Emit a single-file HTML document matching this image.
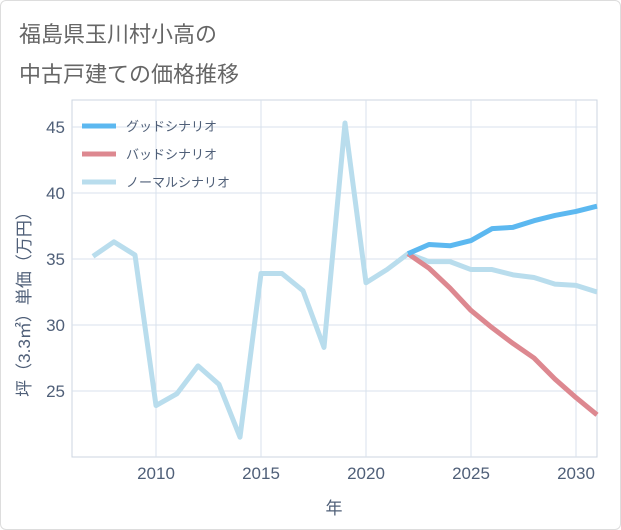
<!DOCTYPE html>
<html><head><meta charset="utf-8"><style>
body{margin:0;background:#fff;}
#card{position:absolute;left:0;top:0;width:619px;height:528px;border:1px solid #ddd;border-radius:6px;background:#fff;}
.t{position:absolute;left:18px;font:22px "Liberation Sans","Noto Sans CJK JP",sans-serif;color:#666;}
svg text{font-family:"Liberation Sans","Noto Sans CJK JP",sans-serif;}
</style></head><body>
<div id="card">
<div class="t" style="top:16px">福島県玉川村小高の</div>
<div class="t" style="top:56px">中古戸建ての価格推移</div>
</div>
<svg id="c" width="621" height="530" style="position:absolute;left:0;top:0"></svg>
<script>
const years=[2007,2008,2009,2010,2011,2012,2013,2014,2015,2016,2017,2018,2019,2020,2021,2022,2023,2024,2025,2026,2027,2028,2029,2030,2031];
const normal=[35.2,36.3,35.3,23.9,24.8,26.9,25.5,21.5,33.9,33.9,32.6,28.3,45.3,33.2,34.2,35.4,34.8,34.8,34.2,34.2,33.8,33.6,33.1,33.0,32.5];
const goodYears=[2022,2023,2024,2025,2026,2027,2028,2029,2030,2031];
const good=[35.4,36.1,36.0,36.4,37.3,37.4,37.9,38.3,38.6,39.0];
const bad=[35.4,34.3,32.8,31.1,29.8,28.6,27.5,25.9,24.5,23.2];
const xTicks=[2010,2015,2020,2025,2030];
const yTicks=[25,30,35,40,45];
const L=72,R=597,T=100,B=457;
const x=v=>156+(v-2010)*21;
const y=v=>127+(45-v)*13.2;
const s=document.getElementById('c');
const NS='http://www.w3.org/2000/svg';
const TC='#4f5f78';
function mk(t,a,p){const e=document.createElementNS(NS,t);for(const k in a)e.setAttribute(k,a[k]);(p||s).appendChild(e);return e;}
const bg=mk('rect',{x:L,y:T,width:R-L,height:B-T,fill:'#fff',stroke:'#ccd6e0'});


xTicks.forEach(v=>{const g=mk('line',{x1:x(v),x2:x(v),y1:T,y2:B,stroke:'#d8e2ec'});


const t=mk('text',{x:x(v),y:479,'text-anchor':'middle','font-size':17,fill:TC});t.textContent=v;

});
yTicks.forEach(v=>{const g=mk('line',{x1:L,x2:R,y1:y(v),y2:y(v),stroke:'#d8e2ec'});


const t=mk('text',{x:65,y:y(v)+6,'text-anchor':'end','font-size':17,fill:TC});t.textContent=v;

});
const xt=mk('text',{x:334,y:514,'text-anchor':'middle','font-size':17,fill:TC});xt.textContent='年';


const yt=mk('text',{x:0,y:0,'text-anchor':'middle','font-size':17,fill:TC,transform:'translate(30,300) rotate(-90)'});yt.textContent='坪（3.3㎡）単価（万円）';


function line(xs,vs,col,name){const p=mk('polyline',{points:xs.map((v,i)=>x(v)+','+y(vs[i])).join(' '),fill:'none',stroke:col,'stroke-width':5,'stroke-linejoin':'round'});

}
line(years,normal,'#b9dded','normal-scenario-line');
line(goodYears,bad,'#dd8890','bad-scenario-line');
line(goodYears,good,'#5cb8f0','good-scenario-line');
const leg=[['グッドシナリオ','#5cb8f0'],['バッドシナリオ','#dd8890'],['ノーマルシナリオ','#b9dded']];
leg.forEach((l,i)=>{const yy=126+i*28;
const ln=mk('line',{x1:82,x2:116,y1:yy,y2:yy,stroke:l[1],'stroke-width':5});


const t=mk('text',{x:126,y:yy+5,'font-size':13,fill:TC});t.textContent=l[0];

});
</script>
</body></html>
